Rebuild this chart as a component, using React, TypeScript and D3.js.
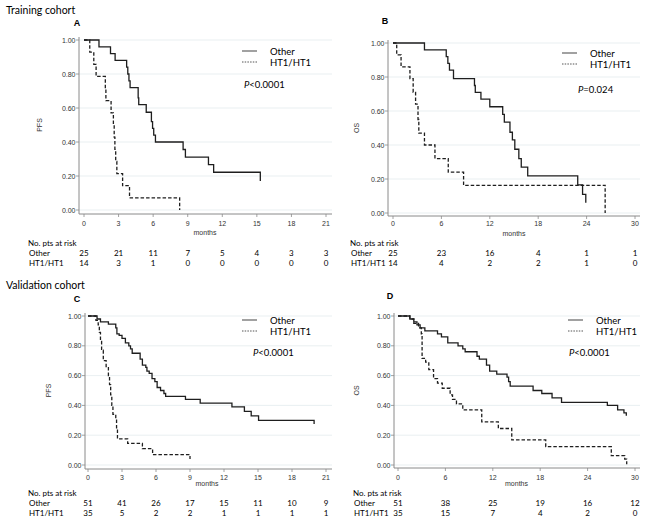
import React from 'react'
import * as d3 from 'd3'

// survival tick labels
const yTicks = [0, 0.2, 0.4, 0.6, 0.8, 1]
const trainPfsTicks = [0, 3, 6, 9, 12, 15, 18, 21]
const osTicks = [0, 6, 12, 18, 24, 30]

// A: training PFS
const aOtherTime = [1.3, 2.3, 2.7, 3.7, 3.8, 3.9, 4.0, 4.7, 4.75, 5.4, 5.85, 5.95, 6.05, 6.2, 8.6, 8.8, 10.8, 11.25, 15.3]
const aOtherSurv = [0.96, 0.92, 0.88, 0.84, 0.8, 0.76, 0.72, 0.66, 0.62, 0.575, 0.52, 0.48, 0.44, 0.4, 0.356, 0.311, 0.267, 0.222, 0.17]
const aHtTime = [0.5, 0.85, 1.05, 1.85, 1.9, 2.35, 2.55, 2.62, 2.68, 2.75, 2.85, 3.35, 3.95, 8.3]
const aHtSurv = [0.929, 0.857, 0.786, 0.714, 0.643, 0.571, 0.5, 0.429, 0.357, 0.286, 0.214, 0.143, 0.071, 0]
const aRiskOther = [25, 21, 11, 7, 5, 4, 3, 3]
const aRiskHt = [14, 3, 1, 0, 0, 0, 0, 0]

// B: training OS
const bOtherTime = [3.9, 6.6, 6.8, 7.0, 7.5, 10.1, 10.2, 10.9, 12.0, 13.6, 13.8, 14.5, 14.8, 15.1, 15.6, 15.9, 16.7, 22.9, 23.5, 23.9]
const bOtherSurv = [0.96, 0.92, 0.88, 0.84, 0.79, 0.75, 0.71, 0.67, 0.625, 0.58, 0.535, 0.475, 0.43, 0.375, 0.32, 0.27, 0.218, 0.165, 0.11, 0.06]
const bHtTime = [0.46, 1.0, 2.1, 2.5, 2.8, 3.1, 3.2, 3.9, 5.2, 6.85, 8.75, 26.3]
const bHtSurv = [0.93, 0.86, 0.79, 0.71, 0.64, 0.55, 0.47, 0.4, 0.32, 0.24, 0.163, 0]
const bRiskOther = [25, 23, 16, 4, 1, 1]
const bRiskHt = [14, 4, 2, 2, 1, 0]

// C: validation PFS
const cOtherTime = [0.8, 1.1, 1.8, 2.45, 2.55, 2.75, 3.0, 3.3, 3.6, 3.75, 3.9, 4.6, 4.8, 5.1, 5.2, 5.4, 5.65, 5.9, 6.1, 6.4, 6.7, 6.85, 8.6, 9.9, 12.7, 13.8, 14.4, 15.05, 19.95]
const cOtherSurv = [0.98, 0.96, 0.945, 0.92, 0.88, 0.87, 0.85, 0.82, 0.8, 0.78, 0.75, 0.71, 0.67, 0.655, 0.63, 0.615, 0.58, 0.56, 0.52, 0.5, 0.48, 0.46, 0.44, 0.415, 0.39, 0.36, 0.33, 0.3, 0.275]
const cHtTime = [0.7, 0.9, 1.0, 1.1, 1.2, 1.35, 1.6, 1.8, 1.9, 2.0, 2.1, 2.2, 2.45, 2.52, 2.6, 3.5, 4.8, 5.7, 9.0]
const cHtSurv = [0.97, 0.94, 0.89, 0.83, 0.77, 0.7, 0.66, 0.6, 0.54, 0.47, 0.4, 0.34, 0.31, 0.25, 0.175, 0.145, 0.11, 0.07, 0.04]
const cRiskOther = [51, 41, 26, 17, 15, 11, 10, 9]
const cRiskHt = [35, 5, 2, 2, 1, 1, 1, 1]

// D: validation OS
const dOtherTime = [1.5, 2.0, 2.4, 2.8, 3.4, 5.0, 5.5, 6.3, 7.6, 8.2, 8.5, 10.0, 10.3, 11.2, 11.6, 12.5, 13.8, 14.0, 14.2, 17.1, 18.2, 19.5, 20.7, 26.5, 27.8, 28.6, 28.9]
const dOtherSurv = [0.98, 0.96, 0.94, 0.92, 0.9, 0.88, 0.86, 0.82, 0.8, 0.78, 0.76, 0.73, 0.71, 0.67, 0.63, 0.61, 0.59, 0.56, 0.53, 0.5, 0.48, 0.45, 0.42, 0.4, 0.37, 0.35, 0.33]
const dHtTime = [1.5, 2.0, 2.6, 2.95, 3.05, 3.5, 3.9, 4.5, 5.0, 5.6, 6.6, 6.9, 7.4, 8.2, 10.6, 12.7, 14.4, 18.7, 27.0, 28.7, 28.95]
const dHtSurv = [0.98, 0.95, 0.92, 0.88, 0.715, 0.69, 0.64, 0.58, 0.55, 0.515, 0.47, 0.44, 0.41, 0.37, 0.29, 0.245, 0.168, 0.123, 0.063, 0.04, 0.005]
const dRiskOther = [51, 38, 25, 19, 16, 12]
const dRiskHt = [35, 15, 7, 4, 2, 0]

const FONT = 'Lato, "Open Sans", sans-serif'
const AXFONT = '"Liberation Sans", Arial, sans-serif'

function Panel(props: any) {
  const { letter, letterX, letterY, ylab, ylabX, xMax, ticks, x0, x1, yTop, yBot, axX, axY, gridR, tickY, monthsY,
    other, ht, riskOther, riskHt, riskX, riskY, legX, legY, pText, pX, pY } = props
  const x = d3.scaleLinear().domain([0, xMax]).range([x0, x1])
  const y = d3.scaleLinear().domain([0, 1]).range([yBot, yTop])
  const line = d3.line<number[]>().x(d => x(d[0])).y(d => y(d[1])).curve(d3.curveStepAfter)
  const pts = (t: number[], s: number[]) => [[0, 1], ...t.map((v, i) => [v, s[i]])]
  return (
    <g>
      <text x={letterX} y={letterY} fontFamily={AXFONT} fontWeight="bold" fontSize={9} textAnchor="middle" dominantBaseline="central">{letter}</text>
      {yTicks.map(v => (
        <g key={v}>
          <line x1={axX} x2={gridR} y1={y(v)} y2={y(v)} stroke="#e3ebee" strokeWidth={0.8} />
          <line x1={axX - 3} x2={axX} y1={y(v)} y2={y(v)} stroke="#8a8a8a" strokeWidth={0.8} />
          <text x={axX - 3.5} y={y(v)} fontFamily={AXFONT} fontSize={7} fill="#333" textAnchor="end" dominantBaseline="central">{v.toFixed(2)}</text>
        </g>
      ))}
      <line x1={axX} x2={axX} y1={yTop - 3} y2={axY} stroke="#8a8a8a" strokeWidth={1} />
      <line x1={axX} x2={gridR} y1={axY} y2={axY} stroke="#8a8a8a" strokeWidth={1} />
      {ticks.map((t: number) => (
        <g key={t}>
          <line x1={x(t)} x2={x(t)} y1={axY} y2={axY + 3} stroke="#8a8a8a" strokeWidth={0.8} />
          <text x={x(t)} y={tickY} fontFamily={AXFONT} fontSize={7} fill="#333" textAnchor="middle" dominantBaseline="central">{t}</text>
        </g>
      ))}
      <text x={(x0 + x1) / 2} y={monthsY} fontFamily={AXFONT} fontSize={7} fill="#333" textAnchor="middle" dominantBaseline="central">months</text>
      <text transform={`translate(${ylabX},${(yTop + yBot) / 2}) rotate(-90)`} fontFamily={AXFONT} fontSize={7} fill="#333" textAnchor="middle" dominantBaseline="central">{ylab}</text>
      <path d={line(pts(ht[0], ht[1]) as any) || ''} fill="none" stroke="#1e1e1e" strokeWidth={1.3} strokeDasharray="3.5,2" />
      <path d={line(pts(other[0], other[1]) as any) || ''} fill="none" stroke="#1e1e1e" strokeWidth={1.3} />
      <line x1={legX} x2={legX + 15} y1={legY} y2={legY} stroke="#555" strokeWidth={1.1} />
      <line x1={legX} x2={legX + 15} y1={legY + 11} y2={legY + 11} stroke="#555" strokeWidth={1} strokeDasharray="1.5,1.2" />
      <text x={legX + 28} y={legY} fontFamily={FONT} fontSize={9.5} dominantBaseline="central">Other</text>
      <text x={legX + 28} y={legY + 11} fontFamily={FONT} fontSize={9.5} dominantBaseline="central">HT1/HT1</text>
      <text x={pX} y={pY} fontFamily={FONT} fontSize={9.5} dominantBaseline="central"><tspan fontStyle="italic">P</tspan>{pText}</text>
      <text x={riskX} y={riskY} fontFamily={FONT} fontSize={8} dominantBaseline="central">No. pts at risk</text>
      <text x={riskX + 1} y={riskY + 10} fontFamily={FONT} fontSize={8} dominantBaseline="central">Other</text>
      <text x={riskX + 1} y={riskY + 19.5} fontFamily={FONT} fontSize={8} dominantBaseline="central">HT1/HT1</text>
      {ticks.map((t: number, i: number) => (
        <g key={'r' + t}>
          <text x={x(t)} y={riskY + 10} fontFamily={FONT} fontSize={8} textAnchor="middle" dominantBaseline="central">{riskOther[i]}</text>
          <text x={x(t)} y={riskY + 19.5} fontFamily={FONT} fontSize={8} textAnchor="middle" dominantBaseline="central">{riskHt[i]}</text>
        </g>
      ))}
    </g>
  )
}

export default function App() {
  return (
    <svg width={650} height={523} style={{ position: 'absolute', left: 0, top: 0, background: '#fff' }}>
      <text x={6} y={10} fontFamily={FONT} fontSize={10.5} dominantBaseline="central">Training cohort</text>
      <text x={6} y={285} fontFamily={FONT} fontSize={10.5} dominantBaseline="central">Validation cohort</text>
      <Panel letter="A" letterX={77} letterY={23} ylab="PFS" ylabX={39} xMax={21} ticks={trainPfsTicks}
        x0={84} x1={326} yTop={40} yBot={210} axX={79} axY={214} gridR={332} tickY={223} monthsY={232}
        other={[aOtherTime, aOtherSurv]} ht={[aHtTime, aHtSurv]} riskOther={aRiskOther} riskHt={aRiskHt}
        riskX={28} riskY={243} legX={242} legY={51} pText="<0.0001" pX={244} pY={84} />
      <Panel letter="B" letterX={385} letterY={21} ylab="OS" ylabX={356} xMax={30} ticks={osTicks}
        x0={393} x1={635} yTop={43} yBot={213} axX={388} axY={216} gridR={640} tickY={223.5} monthsY={233}
        other={[bOtherTime, bOtherSurv]} ht={[bHtTime, bHtSurv]} riskOther={bRiskOther} riskHt={bRiskHt}
        riskX={350} riskY={243} legX={562} legY={53} pText="=0.024" pX={578} pY={89} />
      <Panel letter="C" letterX={77} letterY={299} ylab="PFS" ylabX={48} xMax={21} ticks={trainPfsTicks}
        x0={88} x1={326} yTop={316} yBot={465} axX={85} axY={469} gridR={332} tickY={477} monthsY={483.5}
        other={[cOtherTime, cOtherSurv]} ht={[cHtTime, cHtSurv]} riskOther={cRiskOther} riskHt={cRiskHt}
        riskX={28} riskY={493} legX={242} legY={320} pText="<0.0001" pX={253} pY={352} />
      <Panel letter="D" letterX={390} letterY={296} ylab="OS" ylabX={356} xMax={30} ticks={osTicks}
        x0={398} x1={635} yTop={316} yBot={465} axX={394} axY={468} gridR={640} tickY={477} monthsY={483.5}
        other={[dOtherTime, dOtherSurv]} ht={[dHtTime, dHtSurv]} riskOther={dRiskOther} riskHt={dRiskHt}
        riskX={353} riskY={493} legX={568} legY={320} pText="<0.0001" pX={569} pY={352} />
    </svg>
  )
}
